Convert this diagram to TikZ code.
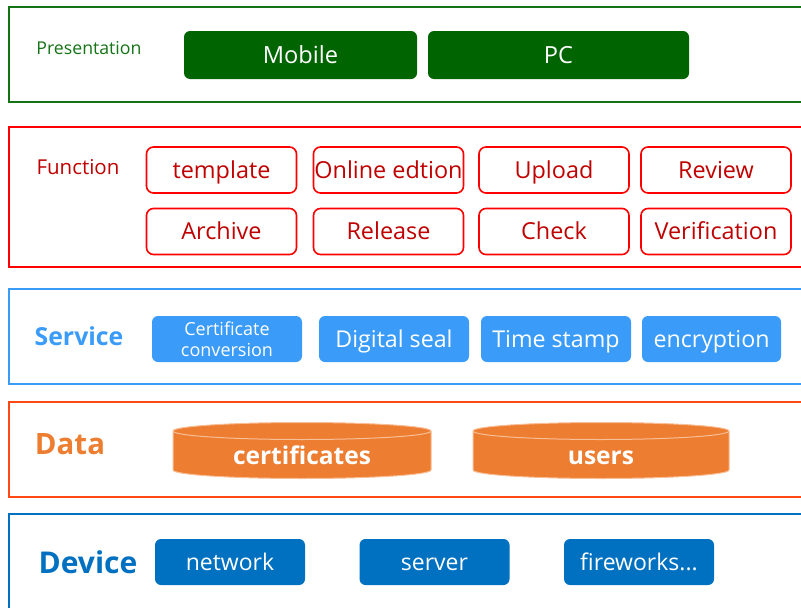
\documentclass[tikz,border=0pt]{standalone}
\usepackage{fontspec}
\setmainfont{Open Sans}
\definecolor{pgreen}{RGB}{0,100,0}
\definecolor{pgreenline}{RGB}{20,115,20}
\definecolor{fred}{RGB}{255,0,0}
\definecolor{fdark}{RGB}{192,0,0}
\definecolor{sblue}{RGB}{58,155,248}
\definecolor{dframe}{RGB}{255,72,20}
\definecolor{dorange}{RGB}{237,125,49}
\definecolor{dlight}{RGB}{248,190,150}
\definecolor{vblue}{RGB}{0,112,192}
\begin{document}
\begin{tikzpicture}[x=1pt,y=-1pt,
  frame/.style={line width=2pt},
  boxtext/.style={text height=17.5pt, text depth=1.5pt, inner sep=0pt},
  pbox/.style={boxtext, fill=pgreen, rounded corners=6pt, text=white, font=\fontsize{23.6}{27}\selectfont, minimum height=48pt},
  fbox/.style={boxtext, draw=fred, line width=1.6pt, fill=white, rounded corners=7pt, text=fdark, font=\fontsize{23.4}{27}\selectfont, minimum width=150pt, minimum height=46pt},
  sbox/.style={boxtext, fill=sblue, rounded corners=6pt, text=white, font=\fontsize{23.2}{27}\selectfont, minimum height=46pt},
  vbox/.style={boxtext, fill=vblue, rounded corners=6pt, text=white, font=\fontsize{23}{27}\selectfont, minimum width=150pt, minimum height=46pt},
  cyl/.style={fill=dorange, draw=dlight, line width=1pt},
  cyltext/.style={anchor=base, text=white, inner sep=0pt, font=\bfseries\fontsize{24.5}{28}\selectfont},
  layerlabel/.style={anchor=base, inner sep=0pt}
]
\useasboundingbox (0,0) rectangle (801,608);
\begin{scope}
\clip (0,0) rectangle (801,608);
% frames
\draw[frame, draw=pgreenline] (9,7) rectangle (812,102);
\draw[frame, draw=fred] (9,127) rectangle (812,267);
\draw[frame, draw=sblue] (9,289) rectangle (812,384);
\draw[frame, draw=dframe] (9,402) rectangle (812,497);
\draw[frame, draw=vblue] (9,514) rectangle (812,620);
\end{scope}

% Presentation
\node[layerlabel, text=pgreenline, font=\fontsize{17.7}{21}\selectfont] (lpres) at (89,54) {Presentation};
\node[pbox, minimum width=233pt] (mobile) at (300.5,55) {Mobile};
\node[pbox, minimum width=261pt] (pc) at (558.5,55) {PC};

% Function
\node[layerlabel, text=fdark, font=\fontsize{20.5}{24}\selectfont] (lfunc) at (78,174) {Function};
\node[fbox] (template) at (221.5,170) {template};
\node[fbox] (online) at (388.5,170) {Online edtion};
\node[fbox] (upload) at (554,170) {Upload};
\node[fbox] (review) at (716,170) {Review};
\node[fbox] (archive) at (221.5,231.5) {Archive};
\node[fbox] (release) at (388.5,231.5) {Release};
\node[fbox] (check) at (554,231.5) {Check};
\node[fbox] (verif) at (716,231.5) {Verification};

% Service
\node[layerlabel, text=sblue, font=\bfseries\fontsize{24.8}{28}\selectfont] (lserv) at (79,345) {Service};
\node[fill=sblue, rounded corners=6pt, text=white, inner sep=0pt, minimum width=150pt, minimum height=46pt, align=center, font=\fontsize{18}{21}\selectfont] (certconv) at (227,339) {Certificate\\conversion};
\node[sbox, minimum width=150pt] (dseal) at (394,339) {Digital seal};
\node[sbox, minimum width=150pt] (tstamp) at (556,339) {Time stamp};
\node[sbox, minimum width=139pt] (encr) at (711.5,339) {encryption};

% Data
\node[layerlabel, text=dorange, font=\bfseries\fontsize{29.4}{33}\selectfont] (ldata) at (70,454) {Data};
\path[cyl] (173,431) -- (173,470) arc[start angle=180, end angle=0, x radius=129, y radius=8.5]
  -- (431,431) arc[start angle=0, end angle=-180, x radius=129, y radius=8.5] -- cycle;
\draw[dlight, line width=1pt] (173,431) arc[start angle=180, end angle=0, x radius=129, y radius=8.5];
\node[cyltext] (certs) at (302,464) {certificates};
\path[cyl] (473,431) -- (473,470) arc[start angle=180, end angle=0, x radius=128, y radius=8.5]
  -- (729,431) arc[start angle=0, end angle=-180, x radius=128, y radius=8.5] -- cycle;
\draw[dlight, line width=1pt] (473,431) arc[start angle=180, end angle=0, x radius=128, y radius=8.5];
\node[cyltext] (users) at (601,464) {users};

% Device
\node[layerlabel, text=vblue, font=\bfseries\fontsize{30}{34}\selectfont] (ldev) at (88,573) {Device};
\node[vbox] (network) at (230,562) {network};
\node[vbox] (server) at (434.5,562) {server};
\node[vbox] (firew) at (639,562) {fireworks...};
\end{tikzpicture}
\end{document}
